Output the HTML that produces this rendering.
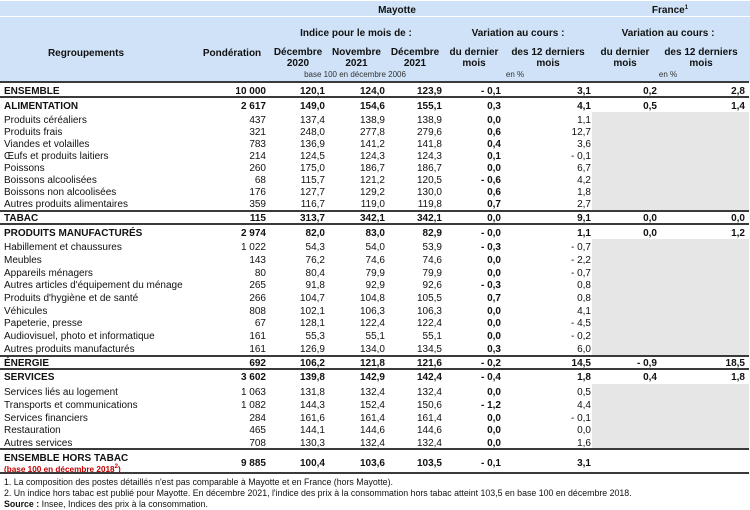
<!DOCTYPE html>
<html><head><meta charset="utf-8">
<style>
*{margin:0;padding:0;box-sizing:border-box}
body{width:750px;height:510px;background:#fff;overflow:hidden;font-family:"Liberation Sans",Arial,sans-serif;color:#111}
#w{position:relative;width:750px;height:510px}
.bg{position:absolute;left:0;top:1px;width:750px;height:81px;background:#cfe2f7}
.wl{position:absolute;left:0;top:16px;width:750px;height:1px;background:#fff}
.ln{position:absolute;left:0;width:749px;height:2px;background:#3a3a3a}
.gr{position:absolute;left:592px;width:157px;background:#e6e6e6}
.h{position:absolute;margin-top:1.5px;font-weight:bold;font-size:10px;line-height:11px;text-align:center;white-space:nowrap;transform:translateX(-50%)}
.sm{position:absolute;margin-top:1px;font-size:8px;line-height:9px;color:#333;white-space:nowrap;transform:translateX(-50%)}
.r{position:absolute;margin-top:1.5px;left:0;width:750px;height:12px;font-size:10px;line-height:12px;white-space:nowrap}
.r span{position:absolute;top:0}
.b{font-weight:bold}
.l{left:4px}
.c1{right:484px}.c2{right:425px}.c3{right:365px}.c4{right:308px}
.c5{right:249px;font-weight:bold}.c6{right:159px}.c7{right:93px}.c8{right:5px}
.fn{position:absolute;margin-top:1px;left:4px;font-size:8.8px;line-height:10px;white-space:nowrap;color:#111}
.red{position:absolute;margin-top:1px;left:4px;font-size:8.2px;line-height:9px;font-weight:bold;color:#c00000;white-space:nowrap}
sup{font-size:6px;line-height:0;vertical-align:4px}
</style></head><body><div id="w">
<div class="bg"></div><div class="wl"></div>

<div class="h" style="left:397px;top:3px">Mayotte</div>
<div class="h" style="left:670px;top:3px">France<sup>1</sup></div>
<div class="h" style="left:356px;top:26px">Indice pour le mois de :</div>
<div class="h" style="left:518px;top:26px">Variation au cours :</div>
<div class="h" style="left:668px;top:26px">Variation au cours :</div>
<div class="h" style="left:86px;top:46px">Regroupements</div>
<div class="h" style="left:232px;top:46px">Pondération</div>
<div class="h" style="left:298px;top:45px">Décembre<br>2020</div>
<div class="h" style="left:356.5px;top:45px">Novembre<br>2021</div>
<div class="h" style="left:415px;top:45px">Décembre<br>2021</div>
<div class="h" style="left:474px;top:45px">du dernier<br>mois</div>
<div class="h" style="left:548px;top:45px">des 12 derniers<br>mois</div>
<div class="h" style="left:625px;top:45px">du dernier<br>mois</div>
<div class="h" style="left:701px;top:45px">des 12 derniers<br>mois</div>
<div class="sm" style="left:355px;top:69px">base 100 en décembre 2006</div>
<div class="sm" style="left:515px;top:69px">en %</div>
<div class="sm" style="left:668px;top:69px">en %</div>

<div class="ln" style="top:81px"></div>
<div class="ln" style="top:96px"></div>
<div class="ln" style="top:210px"></div>
<div class="ln" style="top:223px"></div>
<div class="ln" style="top:355px"></div>
<div class="ln" style="top:368px"></div>
<div class="ln" style="top:448px"></div>
<div class="ln" style="top:472px"></div>

<div class="gr" style="top:112px;height:98px"></div>
<div class="gr" style="top:239px;height:116px"></div>
<div class="gr" style="top:384px;height:64px"></div>

<div class="r b" style="top:84px"><span class="l">ENSEMBLE</span><span class="c1">10 000</span><span class="c2">120,1</span><span class="c3">124,0</span><span class="c4">123,9</span><span class="c5">- 0,1</span><span class="c6">3,1</span><span class="c7">0,2</span><span class="c8">2,8</span></div>
<div class="r b" style="top:99px"><span class="l">ALIMENTATION</span><span class="c1">2 617</span><span class="c2">149,0</span><span class="c3">154,6</span><span class="c4">155,1</span><span class="c5">0,3</span><span class="c6">4,1</span><span class="c7">0,5</span><span class="c8">1,4</span></div>
<div class="r" style="top:113px"><span class="l">Produits céréaliers</span><span class="c1">437</span><span class="c2">137,4</span><span class="c3">138,9</span><span class="c4">138,9</span><span class="c5">0,0</span><span class="c6">1,1</span></div>
<div class="r" style="top:125px"><span class="l">Produits frais</span><span class="c1">321</span><span class="c2">248,0</span><span class="c3">277,8</span><span class="c4">279,6</span><span class="c5">0,6</span><span class="c6">12,7</span></div>
<div class="r" style="top:137px"><span class="l">Viandes et volailles</span><span class="c1">783</span><span class="c2">136,9</span><span class="c3">141,2</span><span class="c4">141,8</span><span class="c5">0,4</span><span class="c6">3,6</span></div>
<div class="r" style="top:149px"><span class="l">Œufs et produits laitiers</span><span class="c1">214</span><span class="c2">124,5</span><span class="c3">124,3</span><span class="c4">124,3</span><span class="c5">0,1</span><span class="c6">- 0,1</span></div>
<div class="r" style="top:161px"><span class="l">Poissons</span><span class="c1">260</span><span class="c2">175,0</span><span class="c3">186,7</span><span class="c4">186,7</span><span class="c5">0,0</span><span class="c6">6,7</span></div>
<div class="r" style="top:173px"><span class="l">Boissons alcoolisées</span><span class="c1">68</span><span class="c2">115,7</span><span class="c3">121,2</span><span class="c4">120,5</span><span class="c5">- 0,6</span><span class="c6">4,2</span></div>
<div class="r" style="top:185px"><span class="l">Boissons non alcoolisées</span><span class="c1">176</span><span class="c2">127,7</span><span class="c3">129,2</span><span class="c4">130,0</span><span class="c5">0,6</span><span class="c6">1,8</span></div>
<div class="r" style="top:197px"><span class="l">Autres produits alimentaires</span><span class="c1">359</span><span class="c2">116,7</span><span class="c3">119,0</span><span class="c4">119,8</span><span class="c5">0,7</span><span class="c6">2,7</span></div>
<div class="r b" style="top:211px"><span class="l">TABAC</span><span class="c1">115</span><span class="c2">313,7</span><span class="c3">342,1</span><span class="c4">342,1</span><span class="c5">0,0</span><span class="c6">9,1</span><span class="c7">0,0</span><span class="c8">0,0</span></div>
<div class="r b" style="top:226px"><span class="l">PRODUITS MANUFACTURÉS</span><span class="c1">2 974</span><span class="c2">82,0</span><span class="c3">83,0</span><span class="c4">82,9</span><span class="c5">- 0,0</span><span class="c6">1,1</span><span class="c7">0,0</span><span class="c8">1,2</span></div>
<div class="r" style="top:240px"><span class="l">Habillement et chaussures</span><span class="c1">1 022</span><span class="c2">54,3</span><span class="c3">54,0</span><span class="c4">53,9</span><span class="c5">- 0,3</span><span class="c6">- 0,7</span></div>
<div class="r" style="top:253px"><span class="l">Meubles</span><span class="c1">143</span><span class="c2">76,2</span><span class="c3">74,6</span><span class="c4">74,6</span><span class="c5">0,0</span><span class="c6">- 2,2</span></div>
<div class="r" style="top:266px"><span class="l">Appareils ménagers</span><span class="c1">80</span><span class="c2">80,4</span><span class="c3">79,9</span><span class="c4">79,9</span><span class="c5">0,0</span><span class="c6">- 0,7</span></div>
<div class="r" style="top:278.5px"><span class="l">Autres articles d'équipement du ménage</span><span class="c1">265</span><span class="c2">91,8</span><span class="c3">92,9</span><span class="c4">92,6</span><span class="c5">- 0,3</span><span class="c6">0,8</span></div>
<div class="r" style="top:291px"><span class="l">Produits d'hygiène et de santé</span><span class="c1">266</span><span class="c2">104,7</span><span class="c3">104,8</span><span class="c4">105,5</span><span class="c5">0,7</span><span class="c6">0,8</span></div>
<div class="r" style="top:304px"><span class="l">Véhicules</span><span class="c1">808</span><span class="c2">102,1</span><span class="c3">106,3</span><span class="c4">106,3</span><span class="c5">0,0</span><span class="c6">4,1</span></div>
<div class="r" style="top:316.5px"><span class="l">Papeterie, presse</span><span class="c1">67</span><span class="c2">128,1</span><span class="c3">122,4</span><span class="c4">122,4</span><span class="c5">0,0</span><span class="c6">- 4,5</span></div>
<div class="r" style="top:329px"><span class="l">Audiovisuel, photo et informatique</span><span class="c1">161</span><span class="c2">55,3</span><span class="c3">55,1</span><span class="c4">55,1</span><span class="c5">0,0</span><span class="c6">- 0,2</span></div>
<div class="r" style="top:342px"><span class="l">Autres produits manufacturés</span><span class="c1">161</span><span class="c2">126,9</span><span class="c3">134,0</span><span class="c4">134,5</span><span class="c5">0,3</span><span class="c6">6,0</span></div>
<div class="r b" style="top:356px"><span class="l">ÉNERGIE</span><span class="c1">692</span><span class="c2">106,2</span><span class="c3">121,8</span><span class="c4">121,6</span><span class="c5">- 0,2</span><span class="c6">14,5</span><span class="c7">- 0,9</span><span class="c8">18,5</span></div>
<div class="r b" style="top:370.5px"><span class="l">SERVICES</span><span class="c1">3 602</span><span class="c2">139,8</span><span class="c3">142,9</span><span class="c4">142,4</span><span class="c5">- 0,4</span><span class="c6">1,8</span><span class="c7">0,4</span><span class="c8">1,8</span></div>
<div class="r" style="top:385.5px"><span class="l">Services liés au logement</span><span class="c1">1 063</span><span class="c2">131,8</span><span class="c3">132,4</span><span class="c4">132,4</span><span class="c5">0,0</span><span class="c6">0,5</span></div>
<div class="r" style="top:398px"><span class="l">Transports et communications</span><span class="c1">1 082</span><span class="c2">144,3</span><span class="c3">152,4</span><span class="c4">150,6</span><span class="c5">- 1,2</span><span class="c6">4,4</span></div>
<div class="r" style="top:411px"><span class="l">Services financiers</span><span class="c1">284</span><span class="c2">161,6</span><span class="c3">161,4</span><span class="c4">161,4</span><span class="c5">0,0</span><span class="c6">- 0,1</span></div>
<div class="r" style="top:423.5px"><span class="l">Restauration</span><span class="c1">465</span><span class="c2">144,1</span><span class="c3">144,6</span><span class="c4">144,6</span><span class="c5">0,0</span><span class="c6">0,0</span></div>
<div class="r" style="top:436px"><span class="l">Autres services</span><span class="c1">708</span><span class="c2">130,3</span><span class="c3">132,4</span><span class="c4">132,4</span><span class="c5">0,0</span><span class="c6">1,6</span></div>
<div class="r b" style="top:451px"><span class="l">ENSEMBLE HORS TABAC</span></div>
<div class="r b" style="top:456px"><span class="c1">9 885</span><span class="c2">100,4</span><span class="c3">103,6</span><span class="c4">103,5</span><span class="c5">- 0,1</span><span class="c6">3,1</span></div>
<div class="red" style="top:463.5px">(base 100 en décembre 2018<sup>2</sup>)</div>

<div class="fn" style="top:476px">1. La composition des postes détaillés n'est pas comparable à Mayotte et en France (hors Mayotte).</div>
<div class="fn" style="top:486.5px">2. Un indice hors tabac est publié pour Mayotte. En décembre 2021, l'indice des prix à la consommation hors tabac atteint 103,5 en base 100 en décembre 2018.</div>
<div class="fn" style="top:497.5px"><b>Source :</b> Insee, Indices des prix à la consommation.</div>
</div></body></html>
